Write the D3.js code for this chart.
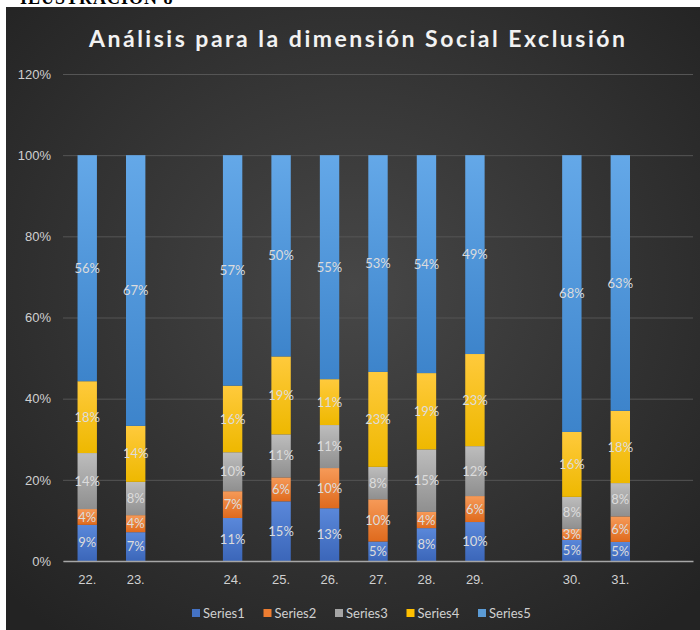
<!DOCTYPE html>
<html>
<head>
<meta charset="utf-8">
<script src="https://cdn.jsdelivr.net/npm/d3@7"></script>
<style>
  body { margin: 0; background: #fff; }
  svg { display: block; font-family: Lato, "Open Sans", sans-serif; }
</style>
</head>
<body>
<svg id="chart"></svg>
<script>
// categories (blank slots kept as gaps, like the original sheet)
const categories = ['22.', '23.', ' ', '24.', '25.', '26.', '27.', '28.', '29.', '  ', '30.', '31.', '   '];
const seriesNames = ['Series1', 'Series2', 'Series3', 'Series4', 'Series5'];
const series1 = [0.089, 0.071, null, 0.106, 0.147, 0.130, 0.048, 0.081, 0.096, null, 0.052, 0.047, null];
const series2 = [0.039, 0.042, null, 0.066, 0.059, 0.099, 0.104, 0.040, 0.064, null, 0.027, 0.063, null];
const series3 = [0.138, 0.082, null, 0.096, 0.106, 0.106, 0.080, 0.154, 0.123, null, 0.079, 0.082, null];
const series4 = [0.177, 0.138, null, 0.164, 0.192, 0.113, 0.234, 0.188, 0.227, null, 0.160, 0.178, null];
const series5 = [0.557, 0.667, null, 0.568, 0.496, 0.552, 0.534, 0.537, 0.490, null, 0.682, 0.630, null];
const yTicks = [0, 0.2, 0.4, 0.6, 0.8, 1.0, 1.2];

const W = 700, H = 630;
const svg = d3.select('#chart').attr('width', W).attr('height', H);
const defs = svg.append('defs');

// panel background
const bg = defs.append('radialGradient').attr('id', 'bg')
    .attr('cx', '50%').attr('cy', '45%').attr('r', '70%');
bg.append('stop').attr('offset', '0%').attr('stop-color', '#474747');
bg.append('stop').attr('offset', '100%').attr('stop-color', '#232323');

// caption above the chart, cut off by the page edge
svg.append('text')
    .attr('x', 20).attr('y', 4)
    .attr('font-family', '"Liberation Serif", serif')
    .attr('font-weight', 'bold')
    .attr('font-size', 18)
    .attr('letter-spacing', 1)
    .attr('fill', '#000')
    .text('ILUSTRACIÓN 8');

svg.append('rect')
    .attr('x', 6).attr('y', 7)
    .attr('width', W - 6).attr('height', H - 7)
    .attr('fill', 'url(#bg)');

// segment gradients: lighter at top, darker at bottom
const fills = [
  ['#5a88da', '#3b66b9'],
  ['#f69a58', '#df6a1d'],
  ['#bdbdbd', '#8f8f8f'],
  ['#ffca3c', '#eeb800'],
  ['#64a8e8', '#3d84cb']
];
fills.forEach((f, i) => {
  const lg = defs.append('linearGradient').attr('id', 'g' + i)
      .attr('x1', 0).attr('y1', 0).attr('x2', 0).attr('y2', 1);
  lg.append('stop').attr('offset', '0%').attr('stop-color', f[0]);
  lg.append('stop').attr('offset', '100%').attr('stop-color', f[1]);
});
const legendColors = ['#4472c4', '#ed7d31', '#a5a5a5', '#ffc000', '#5b9bd5'];

svg.append('text')
    .attr('x', 357).attr('y', 47)
    .attr('text-anchor', 'middle')
    .attr('font-size', 23)
    .attr('font-weight', 'bold')
    .attr('fill', '#f2f2f2')
    .attr('textLength', 536)
    .text('Análisis para la dimensión Social Exclusión');

const margin = {top: 74, left: 63, right: 7, bottom: 69};
const innerWidth = W - margin.left - margin.right;
const innerHeight = H - margin.top - margin.bottom;

const g = svg.append('g')
    .attr('transform', `translate(${margin.left}, ${margin.top})`);

const xScale = d3.scaleBand()
    .domain(categories)
    .range([0, innerWidth])
    .paddingInner(0.6)
    .paddingOuter(0.3);
const yScale = d3.scaleLinear()
    .domain([0, 1.2])
    .range([innerHeight, 0]);

const yAxisG = g.append('g')
    .call(d3.axisLeft(yScale).tickValues(yTicks).tickFormat(d3.format('.0%'))
        .tickSize(-innerWidth).tickPadding(12));
yAxisG.select('.domain').remove();
yAxisG.selectAll('.tick line').attr('stroke', '#555').attr('stroke-width', 1);
yAxisG.selectAll('.tick text').attr('fill', '#d0d0d0').attr('font-size', 13);

const rows = categories.map((c, i) => ({
  cat: c,
  Series1: series1[i], Series2: series2[i], Series3: series3[i],
  Series4: series4[i], Series5: series5[i]
})).filter(d => d.Series1 !== null);

const stacked = d3.stack().keys(seriesNames)(rows);

const layers = g.selectAll('.layer').data(stacked)
    .enter().append('g')
      .attr('class', 'layer')
      .attr('fill', (d, i) => `url(#g${i})`);

layers.selectAll('rect').data(d => d)
    .enter().append('rect')
      .attr('x', d => xScale(d.data.cat))
      .attr('width', xScale.bandwidth())
      .attr('y', d => yScale(d[1]))
      .attr('height', d => yScale(d[0]) - yScale(d[1]));

const fmt = d3.format('.0%');
layers.selectAll('text').data(d => d)
    .enter().append('text')
      .attr('x', d => xScale(d.data.cat) + xScale.bandwidth() / 2)
      .attr('y', d => yScale((d[0] + d[1]) / 2))
      .attr('dy', '0.35em')
      .attr('text-anchor', 'middle')
      .attr('font-size', 13)
      .attr('fill', '#dcdcdc')
      .text(d => fmt(d[1] - d[0]));

const xAxisG = g.append('g')
    .attr('transform', `translate(0, ${innerHeight})`)
    .call(d3.axisBottom(xScale).tickSize(0).tickPadding(14));
xAxisG.select('.domain').attr('stroke', '#a6a6a6').attr('stroke-width', 1.5);
xAxisG.selectAll('.tick text').attr('fill', '#d0d0d0').attr('font-size', 13);

// legend
const legend = svg.append('g').attr('transform', 'translate(192, 613)');
const item = legend.selectAll('g').data(seriesNames)
    .enter().append('g')
      .attr('transform', (d, i) => `translate(${i * 71.5}, 0)`);
item.append('rect')
    .attr('x', 0).attr('y', -4)
    .attr('width', 8).attr('height', 8)
    .attr('fill', (d, i) => legendColors[i]);
item.append('text')
    .attr('x', 11).attr('dy', '0.35em')
    .attr('font-size', 13)
    .attr('fill', '#d0d0d0')
    .text(d => d);
</script>
</body>
</html>
